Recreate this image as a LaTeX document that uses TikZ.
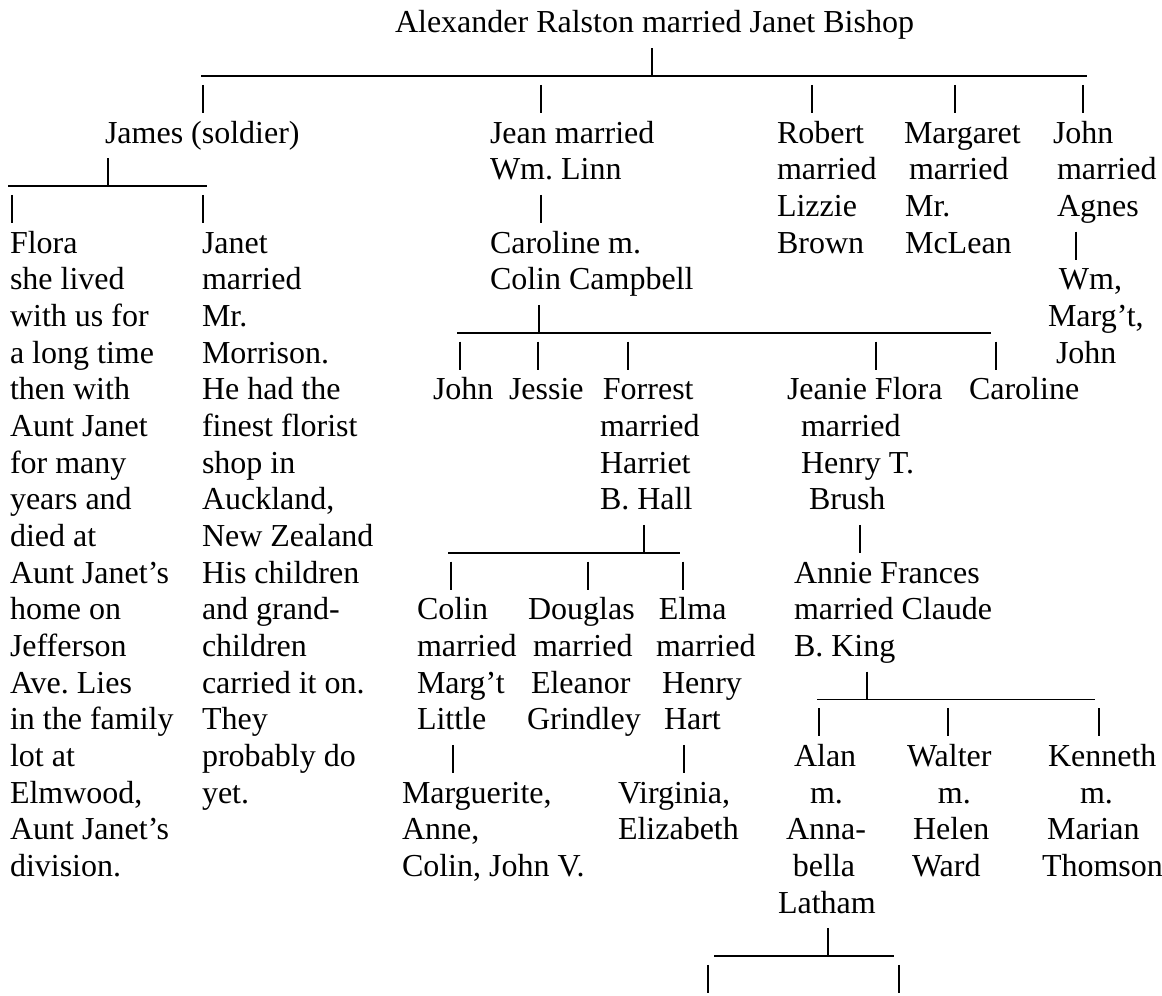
\documentclass[tikz,border=0pt]{standalone}
\usepackage{fontspec}
\setmainfont{Liberation Serif}
\frenchspacing
\newcommand\rowy[1]{33+36.667*#1}
\newcommand\famL[1]{\begin{tabular}[t]{@{}l@{}}#1\end{tabular}}
\newcommand\ind[1]{\hspace*{#1pt}}
\newcommand\famPipe[3]{%
  \coordinate (#1t) at (#2,{33+36.667*#3-21.5});
  \coordinate (#1b) at (#2,{33+36.667*#3+6.5});
  \draw[conn] (#1t) -- (#1b);}
\newcommand\famRule[4]{%
  \coordinate (#1l) at (#2,{33+36.667*#4+6.5});
  \coordinate (#1r) at (#3,{33+36.667*#4+6.5});
  \draw[conn] (#1l) -- (#1r);}
\begin{document}
\begin{tikzpicture}[x=0.375pt,y=-0.375pt,
  txt/.style={anchor=base west,inner sep=0pt,outer sep=0pt,
    font=\fontsize{12}{13.75}\selectfont\frenchspacing},
  conn/.style={line width=0.6pt,black,line cap=butt}]
\fill[white] (0,0) rectangle (1162,995);
\useasboundingbox (0,0) rectangle (1162,995);

% ---------- text ----------
\node[txt] (title) at (395,{\rowy{0}}) {Alexander Ralston married Janet Bishop};

\node[txt] (james) at (105,{\rowy{3}}) {James (soldier)};
\node[txt] (jean) at (490,{\rowy{3}}) {\famL{Jean married\\Wm. Linn}};
\node[txt] (robert) at (777,{\rowy{3}}) {\famL{Robert\\married\\Lizzie\\Brown}};
\node[txt] (margaret) at (904,{\rowy{3}}) {\famL{Margaret\\\ind{1.9}married\\\ind{0.4}Mr.\\\ind{0.4}McLean}};
\node[txt] (johnA) at (1053,{\rowy{3}}) {\famL{John\\\ind{1.5}married\\\ind{1.5}Agnes}};
\node[txt] (johnkids) at (1048,{\rowy{7}}) {\famL{\ind{4.1}Wm,\\Marg’t,\\\ind{3}John}};

\node[txt] (flora) at (10,{\rowy{6}}) {\famL{Flora\\she lived\\with us for\\a long time\\then with\\Aunt Janet\\for many\\years and\\died at\\Aunt Janet’s\\home on\\Jefferson\\Ave. Lies\\in the family\\lot at\\Elmwood,\\Aunt Janet’s\\division.}};
\node[txt] (janet) at (202,{\rowy{6}}) {\famL{Janet\\married\\Mr.\\Morrison.\\He had the\\finest florist\\shop in\\Auckland,\\New Zealand\\His children\\and grand-\\children\\carried it on.\\They\\probably do\\yet.}};

\node[txt] (caroline) at (490,{\rowy{6}}) {\famL{Caroline m.\\Colin Campbell}};

\node[txt] (johnB) at (433,{\rowy{10}}) {John};
\node[txt] (jessie) at (509,{\rowy{10}}) {Jessie};
\node[txt] (forrest) at (600,{\rowy{10}}) {\famL{\ind{1.1}Forrest\\married\\Harriet\\B. Hall}};
\node[txt] (jeanie) at (787,{\rowy{10}}) {\famL{Jeanie Flora\\\ind{5.25}married\\\ind{5.25}Henry T.\\\ind{8.25}Brush}};
\node[txt] (carolineB) at (969,{\rowy{10}}) {Caroline};

\node[txt] (annie) at (794,{\rowy{15}}) {\famL{Annie Frances\\married Claude\\B. King}};

\node[txt] (colin) at (417,{\rowy{16}}) {\famL{Colin\\married\\Marg’t\\Little}};
\node[txt] (douglas) at (527,{\rowy{16}}) {\famL{\ind{0.4}Douglas\\\ind{2.25}married\\\ind{1.5}Eleanor\\Grindley}};
\node[txt] (elma) at (656,{\rowy{16}}) {\famL{\ind{1.1}Elma\\married\\\ind{2.25}Henry\\\ind{3}Hart}};

\node[txt] (alan) at (778,{\rowy{20}}) {\famL{\ind{6}Alan\\\ind{12}m.\\\ind{3}Anna-\\\ind{5.6}bella\\Latham}};
\node[txt] (walter) at (907,{\rowy{20}}) {\famL{Walter\\\ind{11.6}m.\\\ind{2.25}Helen\\\ind{1.9}Ward}};
\node[txt] (kenneth) at (1042,{\rowy{20}}) {\famL{\ind{2.25}Kenneth\\\ind{14.25}m.\\\ind{1.9}Marian\\Thomson}};

\node[txt] (marguerite) at (402,{\rowy{21}}) {\famL{Marguerite,\\Anne,\\Colin, John V.}};
\node[txt] (virginia) at (618,{\rowy{21}}) {\famL{Virginia,\\Elizabeth}};

% ---------- connectors ----------
% Alexander & Janet
\famRule{topbar}{201}{1087}{1}
\famPipe{topj}{652}{1}
\famPipe{pA}{203}{2}
\famPipe{pB}{541}{2}
\famPipe{pC}{812}{2}
\famPipe{pD}{955}{2}
\famPipe{pE}{1083}{2}
% James
\famRule{jamesbar}{8}{207}{4}
\famPipe{jamesj}{108}{4}
\famPipe{pF}{12}{5}
\famPipe{pG}{203}{5}
% Jean
\famPipe{pH}{541}{5}
% John & Agnes
\famPipe{pI}{1076}{6}
% Caroline & Colin Campbell
\famRule{cambar}{457}{991}{8}
\famPipe{camj}{539}{8}
\famPipe{pJ}{460}{9}
\famPipe{pK}{538}{9}
\famPipe{pL}{628}{9}
\famPipe{pM}{876}{9}
\famPipe{pN}{996}{9}
% Forrest & Harriet
\famRule{forbar}{448}{680}{14}
\famPipe{forj}{644}{14}
\famPipe{pO}{451}{15}
\famPipe{pP}{588}{15}
\famPipe{pQ}{683}{15}
% Jeanie Flora
\famPipe{pR}{860}{14}
% Colin, Elma
\famPipe{pS}{453}{20}
\famPipe{pT}{684}{20}
% Annie Frances & Claude B. King
\famRule{kingbar}{817}{1095}{18}
\famPipe{kingj}{867}{18}
\famPipe{pU}{819}{19}
\famPipe{pV}{948}{19}
\famPipe{pW}{1099}{19}
% Alan & Annabella
\famRule{alanbar}{714}{894}{25}
\famPipe{alanj}{828}{25}
\famPipe{pX}{708}{26}
\famPipe{pY}{899}{26}
\end{tikzpicture}
\end{document}
